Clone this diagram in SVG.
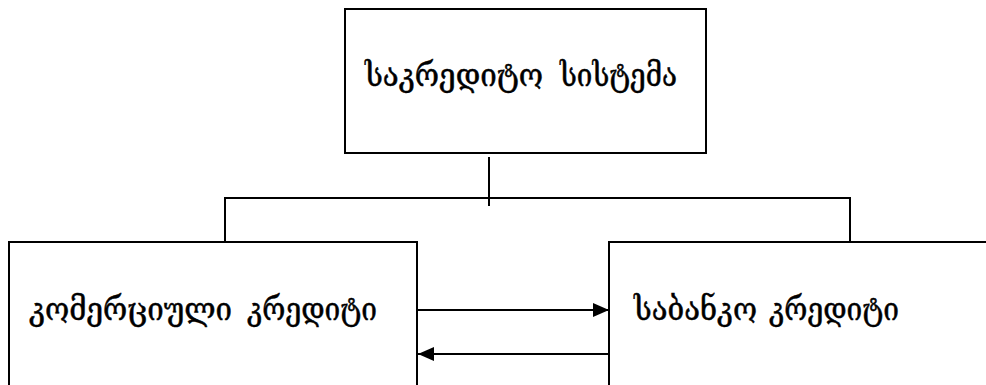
<svg xmlns="http://www.w3.org/2000/svg" width="986" height="385" viewBox="0 0 986 385">
<defs>
<marker id="ah" viewBox="0 0 16 14" refX="16" refY="7" markerWidth="16" markerHeight="14" markerUnits="userSpaceOnUse" orient="auto">
<path d="M0,0 L16,7 L0,14 Z" fill="#000"/>
</marker>
<style>
.box{fill:#fff;stroke:#000;stroke-width:2}
.ln{fill:none;stroke:#000;stroke-width:2}
.t{font-family:"DejaVu Serif","DejaVu Sans",serif;font-size:31px;fill:#000;stroke:#000;stroke-width:0.5}
</style>
</defs>
<rect width="986" height="385" fill="#fff"/>
<g id="connectors">
<line class="ln" x1="489" y1="157" x2="489" y2="206"/>
<polyline class="ln" points="225,246 225,198 850,198 850,246"/>
<line class="ln" x1="417" y1="310" x2="609" y2="310" marker-end="url(#ah)"/>
<line class="ln" x1="609" y1="354" x2="418" y2="354" marker-end="url(#ah)"/>
</g>
<g id="node-system">
<rect class="box" x="345" y="9" width="361" height="144"/>
<text class="t" y="86"><tspan x="365" textLength="178" lengthAdjust="spacingAndGlyphs">საკრედიტო</tspan> <tspan x="560" textLength="117" lengthAdjust="spacingAndGlyphs">სისტემა</tspan></text>
</g>
<g id="node-commercial">
<rect class="box" x="9" y="242" width="408" height="160"/>
<text class="t" y="320"><tspan x="29" textLength="203" lengthAdjust="spacingAndGlyphs">კომერციული</tspan> <tspan x="247" textLength="130" lengthAdjust="spacingAndGlyphs">კრედიტი</tspan></text>
</g>
<g id="node-bank">
<rect class="box" x="609" y="242" width="400" height="160"/>
<text class="t" y="320"><tspan x="634" textLength="123" lengthAdjust="spacingAndGlyphs">საბანკო</tspan> <tspan x="769" textLength="130" lengthAdjust="spacingAndGlyphs">კრედიტი</tspan></text>
</g>
</svg>
